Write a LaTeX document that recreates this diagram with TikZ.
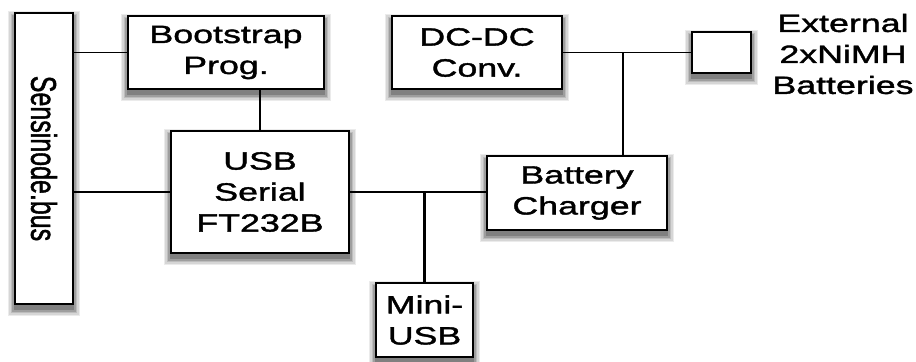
\documentclass[tikz,border=0pt]{standalone}
\usepackage{fontspec}
\usepackage{graphicx}
\usepackage{tikz}
\usetikzlibrary{backgrounds}
\setmainfont{Liberation Sans}[FakeStretch=1.43,FakeBold=1.5]
\newfontfamily\upsans{Liberation Sans}[FakeBold=1.5]
\newcommand{\blokfont}{\fontsize{12.5pt}{15.5pt}\selectfont}

\tikzset{
  blok/.style={draw=black, line width=1.4pt, fill=white, inner sep=0pt,
    align=center, font=\blokfont},
  lbl/.style={align=center, font=\blokfont},
  hwire/.style={line width=0.85pt},
  vwire/.style={line width=1.2pt}
}

\begin{document}
\begin{tikzpicture}[x=0.5pt,y=-0.5pt]
\useasboundingbox (0,0) rectangle (916,362);
\node[blok, minimum width=29pt, minimum height=145.5pt] (bus) at (44,158.5) {\rotatebox{-90}{\scalebox{1}[1.43]{\upsans Sensinode.bus}}};
\node[blok, minimum width=98pt, minimum height=36.5pt] (boot) at (226,52.5) {Bootstrap\\Prog.};
\node[blok, minimum width=89pt, minimum height=61pt] (usb) at (260,192) {USB\\Serial\\FT232B};
\node[blok, minimum width=85pt, minimum height=36.5pt] (dcdc) at (477,52.5) {DC-DC\\Conv.};
\node[blok, minimum width=90pt, minimum height=37pt] (chg) at (577,193) {Battery\\Charger};
\node[blok, minimum width=48.5pt, minimum height=37pt] (mini) at (424.5,320) {Mini-\\USB};
\node[blok, minimum width=29.5pt, minimum height=20.5pt] (cell) at (721.5,52.5) {};
\node[lbl] (ext) at (843,54) {External\\2xNiMH\\Batteries};
\coordinate (tap) at (623,52.5);

% soft shadows under the boxes
\begin{scope}[on background layer]
\foreach \bx in {bus,boot,usb,dcdc,chg,mini,cell}
  \foreach \gr/\tone in {3/8,2.25/16,1.5/26,0.75/38,0/50}
    \fill[black!\tone] ([shift={(-\gr pt,-2.5pt-\gr pt)}]\bx.south west) rectangle ([shift={(\gr pt,-2.5pt+\gr pt)}]\bx.north east);
\end{scope}

% bus side
\draw[hwire] (boot.west -| bus.east) -- (boot.west);
\draw[hwire] (usb.west -| bus.east) -- (usb.west);
\draw[vwire] (usb.north) -- (usb.north |- boot.south);
% usb to charger
\draw[hwire] (usb.east) -- (usb.east -| chg.west);
\draw[vwire] (mini.north) -- (mini.north |- usb.east);
% power
\draw[hwire] (dcdc.east) -- (cell.west);
\draw[vwire] (tap) -- (tap |- chg.north);
\end{tikzpicture}
\end{document}
